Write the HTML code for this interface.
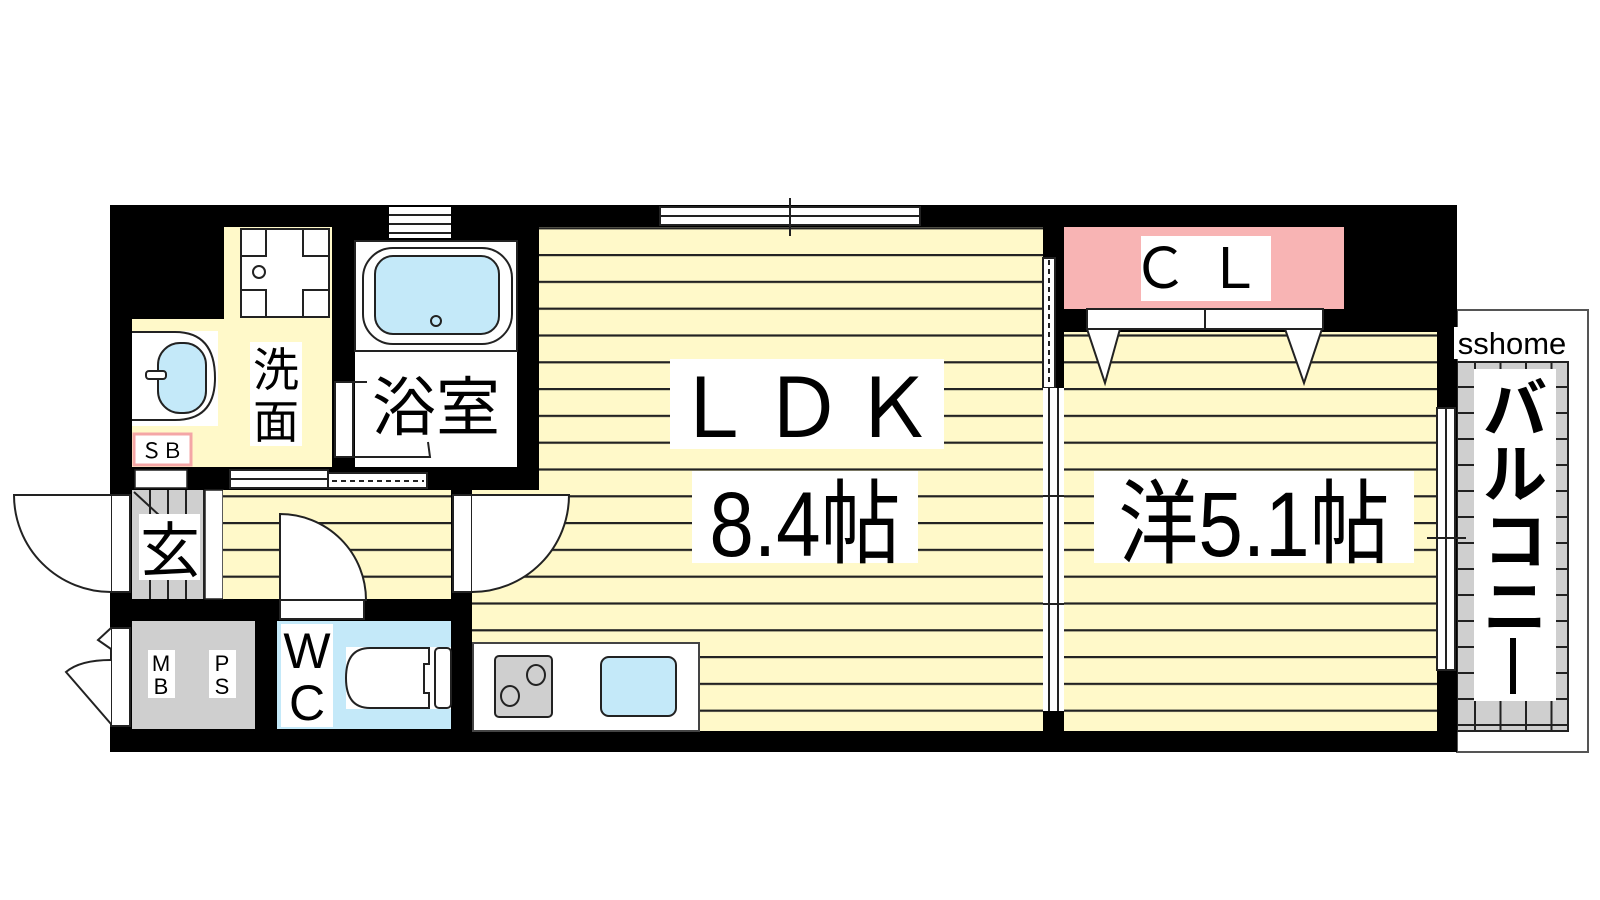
<!DOCTYPE html>
<html><head><meta charset="utf-8"><style>html,body{margin:0;padding:0;background:#fff}svg{display:block}</style></head>
<body>
<svg width="1600" height="900" viewBox="0 0 1600 900" xmlns="http://www.w3.org/2000/svg" font-family="'Liberation Sans','Noto Sans CJK JP',sans-serif">
<defs>
<pattern id="st" patternUnits="userSpaceOnUse" x="0" y="254" width="1600" height="26.8">
<rect width="1600" height="26.8" fill="#fff9c9"/><rect y="0" width="1600" height="2.2" fill="#222"/>
</pattern>
<pattern id="gr" patternUnits="userSpaceOnUse" x="1462" y="386" width="25.5" height="26">
<rect width="25.5" height="26" fill="#cfcfcf"/><rect x="12" width="2" height="26" fill="#222"/><rect y="0" width="25.5" height="2" fill="#222"/>
</pattern>
</defs>
<rect x="1457" y="310" width="131" height="442" fill="#fff" stroke="#555" stroke-width="2"/>
<rect x="1457" y="362" width="111" height="369" fill="url(#gr)" stroke="#222" stroke-width="2"/>
<rect x="110" y="205" width="1347" height="547" fill="#000"/>
<rect x="539" y="227" width="504" height="504" fill="url(#st)"/>
<rect x="472" y="490" width="80" height="241" fill="url(#st)"/>
<rect x="1064" y="332" width="373" height="399" fill="url(#st)"/>
<rect x="1064" y="227" width="280" height="82" fill="#f8b4b4"/>
<rect x="1141" y="236" width="130" height="65" fill="#fff"/>
<text x="1206" y="288" font-size="56" text-anchor="middle" letter-spacing="18">ＣＬ</text>
<rect x="1087" y="309" width="236" height="20" fill="#fff" stroke="#222" stroke-width="2"/>
<line x1="1205" y1="309" x2="1205" y2="329" stroke="#222" stroke-width="2"/>
<polygon points="1087,329 1120,329 1105,383" fill="#fff" stroke="#222" stroke-width="2"/>
<polygon points="1285,329 1322,329 1304,383" fill="#fff" stroke="#222" stroke-width="2"/>
<rect x="1043" y="258" width="12" height="130" fill="#fff" stroke="#222" stroke-width="2"/>
<line x1="1049" y1="260" x2="1049" y2="386" stroke="#222" stroke-width="2" stroke-dasharray="5,4"/>
<rect x="1043" y="388" width="21" height="323" fill="#fff"/>
<line x1="1049" y1="388" x2="1049" y2="711" stroke="#222" stroke-width="2"/>
<line x1="1058" y1="388" x2="1058" y2="711" stroke="#222" stroke-width="2"/>
<line x1="1043" y1="496" x2="1064" y2="496" stroke="#222" stroke-width="2"/>
<line x1="1043" y1="604" x2="1064" y2="604" stroke="#222" stroke-width="2"/>
<rect x="660" y="207" width="260" height="18" fill="#fff" stroke="#222" stroke-width="2"/>
<line x1="660" y1="216" x2="920" y2="216" stroke="#222" stroke-width="2"/>
<line x1="790" y1="198" x2="790" y2="236" stroke="#222" stroke-width="2"/>
<rect x="1437" y="408" width="18" height="262" fill="#fff" stroke="#222" stroke-width="2"/>
<line x1="1446" y1="408" x2="1446" y2="670" stroke="#222" stroke-width="2"/>
<line x1="1427" y1="538" x2="1466" y2="538" stroke="#222" stroke-width="2"/>
<rect x="670" y="359" width="274" height="90" fill="#fff"/>
<text x="807" y="437" font-size="82" text-anchor="middle" letter-spacing="8">ＬＤＫ</text>
<rect x="692" y="471" width="226" height="92" fill="#fff"/>
<text transform="translate(805,556) scale(1,1.15)" font-size="80" text-anchor="middle">8.4帖</text>
<rect x="1094" y="471" width="320" height="92" fill="#fff"/>
<text transform="translate(1254,556) scale(1,1.15)" font-size="80" text-anchor="middle">洋5.1帖</text>
<rect x="1454" y="327" width="117" height="32" fill="#fff"/>
<text x="1512" y="354" font-size="31" text-anchor="middle">sshome</text>
<rect x="1474" y="369" width="82" height="332" fill="#fff"/>
<text x="1515" y="432" font-size="64" text-anchor="middle" font-weight="bold">バ</text>
<text x="1515" y="497" font-size="64" text-anchor="middle" font-weight="bold">ル</text>
<text x="1515" y="564" font-size="64" text-anchor="middle" font-weight="bold">コ</text>
<text x="1515" y="630" font-size="64" text-anchor="middle" font-weight="bold">ニ</text>
<rect x="1510" y="638" width="6" height="56" fill="#000"/>
<rect x="389" y="207" width="62" height="31" fill="#fff"/>
<line x1="389" y1="215" x2="451" y2="215" stroke="#222" stroke-width="2"/>
<line x1="389" y1="224" x2="451" y2="224" stroke="#222" stroke-width="2"/>
<line x1="389" y1="233" x2="451" y2="233" stroke="#222" stroke-width="2"/>
<rect x="355" y="241" width="162" height="226" fill="#fff"/>
<rect x="355" y="241" width="162" height="110" fill="none" stroke="#222" stroke-width="2"/>
<rect x="363" y="248" width="149" height="96" rx="30" fill="#fff" stroke="#222" stroke-width="2"/>
<rect x="375" y="256" width="124" height="78" rx="18" fill="#c4e9f9" stroke="#222" stroke-width="2"/>
<circle cx="436" cy="321" r="5" fill="#c4e9f9" stroke="#222" stroke-width="2"/>
<rect x="335" y="382" width="18" height="75" fill="#fff" stroke="#222" stroke-width="2"/>
<path d="M353 382 L367 382 M353 457 L430 457 L428 442" stroke="#222" stroke-width="2" fill="none"/>
<text x="436" y="430" font-size="64" text-anchor="middle">浴室</text>
<rect x="224" y="227" width="108" height="240" fill="#fff9c9"/>
<rect x="132" y="319" width="92" height="148" fill="#fff9c9"/>
<rect x="241" y="229" width="88" height="88" fill="#fff" stroke="#222" stroke-width="2"/>
<path d="M266 229 V256 H241 M303 229 V256 H329 M266 317 V290 H241 M303 317 V290 H329" stroke="#222" stroke-width="2" fill="none"/>
<circle cx="259" cy="272" r="6" fill="#fff" stroke="#222" stroke-width="2"/>
<rect x="132" y="331" width="86" height="95" fill="#fff"/>
<path d="M132 332 H175 Q215 332 215 378 Q215 420 175 420 H132" fill="#fff" stroke="#222" stroke-width="2"/>
<rect x="158" y="343" width="48" height="70" rx="22" fill="#c4e9f9" stroke="#222" stroke-width="2"/>
<rect x="146" y="371" width="20" height="8" rx="3" fill="#fff" stroke="#222" stroke-width="2"/>
<rect x="250" y="342" width="52" height="104" fill="#fff"/>
<text x="276" y="386" font-size="46" text-anchor="middle">洗</text>
<text x="276" y="438" font-size="46" text-anchor="middle">面</text>
<rect x="134" y="434" width="57" height="31" fill="#fff" stroke="#f4a6a6" stroke-width="3"/>
<text x="162" y="458" font-size="21" text-anchor="middle">ＳＢ</text>
<rect x="230" y="470" width="98" height="18" fill="#fff" stroke="#222" stroke-width="2"/>
<line x1="230" y1="479" x2="328" y2="479" stroke="#222" stroke-width="2"/>
<rect x="328" y="473" width="99" height="15" fill="#fff" stroke="#222" stroke-width="2"/>
<line x1="332" y1="481" x2="424" y2="481" stroke="#222" stroke-width="2" stroke-dasharray="5,4"/>
<rect x="135" y="470" width="52" height="18" fill="#fff" stroke="#222" stroke-width="1.5"/>
<rect x="132" y="490" width="91" height="109" fill="#cfcfcf"/>
<path d="M150 490V599 M168 490V599 M186 490V599 M204 490V599 M134 492 L160 516" stroke="#222" stroke-width="2"/>
<rect x="205" y="490" width="18" height="109" fill="#fff" stroke="#222" stroke-width="1.5"/>
<rect x="223" y="490" width="228" height="109" fill="url(#st)"/>
<rect x="139" y="514" width="61" height="66" fill="#fff"/>
<text x="170" y="572" font-size="60" text-anchor="middle">玄</text>
<rect x="111" y="495" width="19" height="97" fill="#fff" stroke="#222" stroke-width="2"/>
<path d="M111 495 H14 A97 97 0 0 0 111 592" fill="#fff" stroke="#222" stroke-width="2"/>
<rect x="453" y="495" width="19" height="97" fill="#fff" stroke="#222" stroke-width="2"/>
<path d="M472 592 A97 97 0 0 0 569 495 H472" fill="#fff" stroke="#222" stroke-width="2"/>
<rect x="280" y="600" width="84" height="19" fill="#fff" stroke="#222" stroke-width="2"/>
<path d="M280 600 V514 A86 86 0 0 1 366 600 Z" fill="#fff" stroke="#222" stroke-width="2"/>
<rect x="132" y="621" width="123" height="108" fill="#cfcfcf"/>
<rect x="148" y="650" width="27" height="48" fill="#fff"/>
<rect x="209" y="650" width="27" height="48" fill="#fff"/>
<text x="161" y="671" font-size="22" text-anchor="middle">M</text>
<text x="161" y="694" font-size="22" text-anchor="middle">B</text>
<text x="222" y="671" font-size="22" text-anchor="middle">P</text>
<text x="222" y="694" font-size="22" text-anchor="middle">S</text>
<rect x="111" y="628" width="19" height="98" fill="#fff" stroke="#222" stroke-width="2"/>
<path d="M111 628 L98 640 L111 649 M111 660 Q80 660 66 672 L111 724" fill="#fff" stroke="#222" stroke-width="2"/>
<rect x="277" y="621" width="174" height="108" fill="#c4e9f9"/>
<rect x="281" y="624" width="52" height="103" fill="#fff"/>
<text x="307" y="668" font-size="50" text-anchor="middle">W</text>
<text x="307" y="720" font-size="50" text-anchor="middle">C</text>
<rect x="346" y="647" width="105" height="62" fill="#fff"/>
<path d="M429 648 H370 Q346 648 346 678 Q346 708 370 708 H429 V693 H424 V664 H429 Z" fill="#fff" stroke="#222" stroke-width="2"/>
<rect x="435" y="648" width="16" height="60" rx="4" fill="#fff" stroke="#222" stroke-width="2"/>
<rect x="473" y="643" width="226" height="88" fill="#fff" stroke="#444" stroke-width="2"/>
<rect x="495" y="656" width="57" height="61" rx="4" fill="#cfcfcf" stroke="#222" stroke-width="2"/>
<ellipse cx="510" cy="696" rx="9" ry="10" fill="none" stroke="#222" stroke-width="2"/>
<ellipse cx="536" cy="675" rx="9" ry="10" fill="none" stroke="#222" stroke-width="2"/>
<rect x="601" y="657" width="75" height="59" rx="8" fill="#c4e9f9" stroke="#222" stroke-width="2"/>
</svg>
</body></html>
